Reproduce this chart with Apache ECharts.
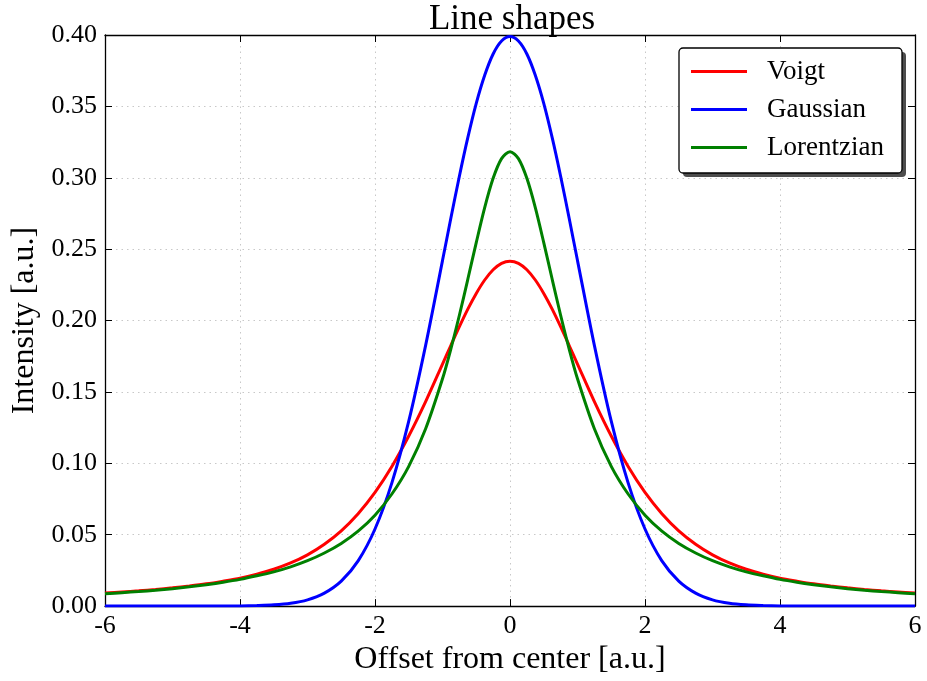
<!DOCTYPE html>
<html>
<head>
<meta charset="utf-8">
<script src="https://cdn.jsdelivr.net/npm/echarts@6/dist/echarts.min.js"></script>
<style>
  html, body { margin: 0; padding: 0; background: #fff; }
  #chart { width: 927px; height: 681px; }
</style>
</head>
<body>
<div id="chart"></div>
<script>
// sampled every 0.25, and every 0.125 around the peak
const offsets = [-6, -5.75, -5.5, -5.25, -5, -4.75, -4.5, -4.25, -4, -3.75, -3.5, -3.25, -3, -2.75, -2.5, -2.25,
  -2, -1.75, -1.5, -1.25, -1, -0.875, -0.75, -0.625, -0.5, -0.375, -0.25, -0.125,
  0,
  0.125, 0.25, 0.375, 0.5, 0.625, 0.75, 0.875, 1, 1.25, 1.5, 1.75,
  2, 2.25, 2.5, 2.75, 3, 3.25, 3.5, 3.75, 4, 4.25, 4.5, 4.75, 5, 5.25, 5.5, 5.75, 6]

const voigt = [0.0091, 0.0099, 0.0107, 0.0117, 0.0128, 0.0141, 0.0156, 0.0175, 0.0196, 0.0224, 0.0258, 0.0302,
  0.0359, 0.0433, 0.0527, 0.0647, 0.0796, 0.0978, 0.1191, 0.1432, 0.1695, 0.1827, 0.1957, 0.2080,
  0.2190, 0.2284, 0.2356, 0.2401,
  0.2416,
  0.2401, 0.2356, 0.2284, 0.2190, 0.2080, 0.1957, 0.1827, 0.1695, 0.1432, 0.1191, 0.0978,
  0.0796, 0.0647, 0.0527, 0.0433, 0.0359, 0.0302, 0.0258, 0.0224, 0.0196, 0.0175, 0.0156, 0.0141,
  0.0128, 0.0117, 0.0107, 0.0099, 0.0091]

const gaussian = [0, 0, 0, 0, 0, 0, 0, 0, 0.0001, 0.0004, 0.0009, 0.0020,
  0.0044, 0.0091, 0.0175, 0.0317, 0.0540, 0.0863, 0.1295, 0.1826, 0.2420, 0.2720, 0.3011, 0.3281,
  0.3521, 0.3718, 0.3867, 0.3958,
  0.3989,
  0.3958, 0.3867, 0.3718, 0.3521, 0.3281, 0.3011, 0.2720, 0.2420, 0.1826, 0.1295, 0.0863,
  0.0540, 0.0317, 0.0175, 0.0091, 0.0044, 0.0020, 0.0009, 0.0004, 0.0001, 0, 0, 0,
  0, 0, 0, 0, 0]

const lorentzian = [0.0086, 0.0094, 0.0102, 0.0111, 0.0122, 0.0135, 0.0150, 0.0167, 0.0187, 0.0212, 0.0240, 0.0275,
  0.0318, 0.0372, 0.0439, 0.0525, 0.0637, 0.0785, 0.0979, 0.1242, 0.1592, 0.1803, 0.2037, 0.2289,
  0.2546, 0.2791, 0.2996, 0.3134,
  0.3183,
  0.3134, 0.2996, 0.2791, 0.2546, 0.2289, 0.2037, 0.1803, 0.1592, 0.1242, 0.0979, 0.0785,
  0.0637, 0.0525, 0.0439, 0.0372, 0.0318, 0.0275, 0.0240, 0.0212, 0.0187, 0.0167, 0.0150, 0.0135,
  0.0122, 0.0111, 0.0102, 0.0094, 0.0086]

const seriesNames = ['Voigt', 'Gaussian', 'Lorentzian']
const seriesColors = ['#ff0000', '#0000ff', '#008000']
const seriesValues = [voigt, gaussian, lorentzian]

const FONT = "'Liberation Serif', 'DejaVu Serif', serif"

const chart = echarts.init(document.getElementById('chart'), null, { renderer: 'canvas' })

const gridDots = { show: true, lineStyle: { color: '#c8c8c8', width: 1, type: [1.5, 4] } }
const frameLine = { show: true, onZero: false, lineStyle: { color: '#000', width: 1.3 } }
const innerTick = { show: true, inside: true, length: 7, lineStyle: { color: '#000', width: 1 } }

chart.setOption({
  backgroundColor: '#fff',
  animation: false,
  title: {
    text: 'Line shapes',
    left: 507, top: -3, textAlign: 'center',
    textStyle: { fontFamily: FONT, fontSize: 35, fontWeight: 'normal', color: '#000' },
  },
  grid: { left: 105, right: 12, top: 35, bottom: 74 },
  // legend frame + drop shadow, drawn under the legend items
  graphic: [
    { type: 'rect', z: 10, shape: { x: 683, y: 52, width: 223, height: 125, r: 4 },
      style: { fill: '#4d4d4d' } },
    { type: 'rect', z: 11, shape: { x: 679, y: 48, width: 223, height: 125, r: 4 },
      style: { fill: '#fff', stroke: '#000', lineWidth: 1.3 } },
  ],
  legend: {
    data: seriesNames,
    orient: 'vertical',
    left: 691, top: 58,
    padding: 0,
    itemGap: 11,
    itemWidth: 56, itemHeight: 3,
    icon: 'rect',
    z: 20,
    textStyle: { fontFamily: FONT, fontSize: 27, lineHeight: 26, color: '#000', padding: [0, 0, 0, 15] },
  },
  xAxis: [
    {
      type: 'value', min: -6, max: 6, interval: 2,
      name: 'Offset from center [a.u.]', nameLocation: 'middle', nameGap: 34,
      nameTextStyle: { fontFamily: FONT, fontSize: 32, color: '#000' },
      axisLine: frameLine, axisTick: innerTick, splitLine: gridDots,
      axisLabel: { fontFamily: FONT, fontSize: 26, color: '#000', margin: 7 },
    },
    {
      type: 'value', min: -6, max: 6, interval: 2, position: 'top',
      axisLine: frameLine, axisTick: innerTick, splitLine: { show: false },
      axisLabel: { show: false },
    },
  ],
  yAxis: [
    {
      type: 'value', min: 0, max: 0.4, interval: 0.05,
      name: 'Intensity [a.u.]', nameLocation: 'middle', nameGap: 55,
      nameTextStyle: { fontFamily: FONT, fontSize: 32, color: '#000' },
      axisLine: frameLine, axisTick: innerTick, splitLine: gridDots,
      axisLabel: { fontFamily: FONT, fontSize: 26, color: '#000', margin: 8, formatter: v => v.toFixed(2) },
    },
    {
      type: 'value', min: 0, max: 0.4, interval: 0.05, position: 'right',
      axisLine: frameLine, axisTick: innerTick, splitLine: { show: false },
      axisLabel: { show: false },
    },
  ],
  series: seriesNames.map((name, i) => ({
    name,
    type: 'line',
    xAxisIndex: 0, yAxisIndex: 0,
    smooth: 0.3,
    showSymbol: false,
    lineStyle: { color: seriesColors[i], width: 3 },
    itemStyle: { color: seriesColors[i] },
    data: offsets.map((x, k) => [x, seriesValues[i][k]]),
  })),
})
</script>
</body>
</html>
